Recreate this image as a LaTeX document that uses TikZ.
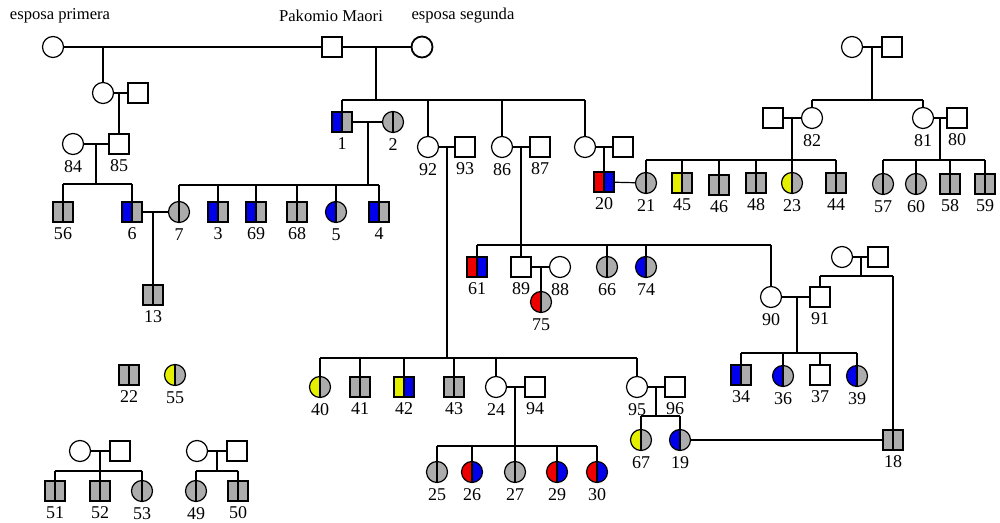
\documentclass[tikz,border=0pt]{standalone}
\usepackage{fontspec}
\setmainfont{Liberation Serif}
\definecolor{gry}{RGB}{172,172,172}
\definecolor{yel}{RGB}{228,240,0}
\definecolor{blu}{RGB}{0,0,235}
\definecolor{rd}{RGB}{238,0,0}
\tikzset{
  sq/.style={draw, rectangle, minimum size=10pt, inner sep=0pt, fill=white},
  ci/.style={draw, circle, minimum size=10.5pt, inner sep=0pt, fill=white},
  hf/.style 2 args={path picture={
      \fill[#1] (path picture bounding box.south west) rectangle (path picture bounding box.north);
      \fill[#2] (path picture bounding box.south) rectangle (path picture bounding box.north east);
      \draw[line width=0.6pt] (path picture bounding box.north) -- (path picture bounding box.south);}},
  gr/.style={hf={gry}{gry}},
  num/.style={font=\fontsize{9}{10}\selectfont, inner sep=0pt},
  lb/.style={label={[num, label distance=2.3pt]below:#1}},
  ttl/.style={font=\fontsize{8.3}{10}\selectfont, inner sep=0pt},
}
\newcommand\kid[2]{\draw (#1.north) -- (#1.north |- #2);}
\begin{document}
\begin{tikzpicture}[x=0.5pt, y=-0.5pt, line width=0.6pt]
\useasboundingbox (0,0) rectangle (1000,523);

% titles
\node[ttl] (tep) at (60,16) {esposa primera};
\node[ttl] (tpm) at (331,16) {Pakomio Maori};
\node[ttl] (tes) at (463,16) {esposa segunda};

% generation 1
\node[ci] (ep) at (53,47) {};
\node[sq] (pm) at (332,47) {};
\node[ci, line width=0.9pt] (es) at (422,47) {};
\draw (ep) -- (pm);
\draw (pm) -- (es);
\coordinate (jA) at (103,47);
\coordinate (jB) at (376,47);
\coordinate (sB) at (376,100);

% left branch
\node[ci] (a) at (103,93) {};
\node[sq] (b) at (138,93) {};
\draw (jA) -- (a);
\draw (a) -- (b);
\coordinate (jab) at (119,93);
\node[ci, lb=84] (n84) at (73,144) {};
\node[sq, lb=85] (n85) at (119,144) {};
\draw (jab) -- (n85);
\draw (n84) -- (n85);
\coordinate (j84) at (96,144);
\coordinate (s84) at (96,184);
\draw (j84) -- (s84);
\node[sq, gr, lb=56] (n56) at (63,212) {};
\node[sq, hf={blu}{gry}, lb=6] (n6) at (132,212) {};
\draw (n56.north |- s84) -- (n6.north |- s84);
\kid{n56}{s84}\kid{n6}{s84}

% children of Pakomio and esposa segunda
\draw (jB) -- (sB);
\node[sq, hf={blu}{gry}, lb=1] (n1) at (342,122) {};
\node[ci, gr, lb=2] (n2) at (393,122) {};
\node[ci, lb=92] (n92) at (428,147) {};
\node[sq, lb=93] (n93) at (465,147) {};
\node[ci, lb=86] (n86) at (502,147) {};
\node[sq, lb=87] (n87) at (540,147) {};
\node[ci] (c) at (585,147) {};
\node[sq] (d) at (623,147) {};
\draw (n1.north |- sB) -- (c.north |- sB);
\kid{n1}{sB}\kid{n92}{sB}\kid{n86}{sB}\kid{c}{sB}

% family 1 x 2
\draw (n1) -- (n2);
\coordinate (j12) at (368,122);
\coordinate (s12) at (368,185);
\draw (j12) -- (s12);
\node[ci, gr, lb=7] (n7) at (179,212) {};
\node[sq, hf={blu}{gry}, lb=3] (n3) at (218,212) {};
\node[sq, hf={blu}{gry}, lb=69] (n69) at (256,212) {};
\node[sq, gr, lb=68] (n68) at (297,212) {};
\node[ci, hf={blu}{gry}, lb=5] (n5) at (336,212) {};
\node[sq, hf={blu}{gry}, lb=4] (n4) at (379,212) {};
\draw (n7.north |- s12) -- (n4.north |- s12);
\kid{n7}{s12}\kid{n3}{s12}\kid{n69}{s12}\kid{n68}{s12}\kid{n5}{s12}\kid{n4}{s12}
\draw (n6) -- (n7);
\coordinate (j67) at (153,212);
\node[sq, gr, lb=13] (n13) at (153,295) {};
\draw (j67) -- (n13);

% 92 x 93
\draw (n92) -- (n93);
\coordinate (j92) at (447,147);
\coordinate (s92) at (447,358);
\draw (j92) -- (s92);

% 86 x 87
\draw (n86) -- (n87);
\coordinate (j86) at (521,147);
\coordinate (s86) at (521,245);
\draw (j86) -- (s86);

% c x d
\draw (c) -- (d);
\coordinate (jc) at (604,147);
\node[sq, hf={rd}{blu}, lb=20] (n20) at (604,182) {};
\draw (jc) -- (n20);

% right family
\node[ci] (e) at (852,47) {};
\node[sq] (f) at (892,47) {};
\draw (e) -- (f);
\coordinate (je) at (872,47);
\coordinate (se) at (872,100);
\draw (je) -- (se);
\node[sq] (g) at (773,118) {};
\node[ci, lb=82] (n82) at (812,118) {};
\node[ci, lb=81] (n81) at (923,118) {};
\node[sq, lb=80] (n80) at (957,118) {};
\draw (n82.north |- se) -- (n81.north |- se);
\kid{n82}{se}\kid{n81}{se}
\draw (g) -- (n82);
\draw (n81) -- (n80);
\coordinate (j82) at (792,118);
\coordinate (s82) at (792,160);
\draw (j82) -- (s82);
\coordinate (j81) at (940,118);
\coordinate (s81) at (940,160);
\draw (j81) -- (s81);
\node[ci, gr, lb=21] (n21) at (646,183) {};
\node[sq, hf={yel}{gry}, lb=45] (n45) at (682,183) {};
\node[sq, gr, lb=46] (n46) at (719,185) {};
\node[sq, gr, lb=48] (n48) at (756,183) {};
\node[ci, hf={yel}{gry}, lb=23] (n23) at (792,183) {};
\node[sq, gr, lb=44] (n44) at (836,183) {};
\draw (n21.north |- s82) -- (n44.north |- s82);
\kid{n21}{s82}\kid{n45}{s82}\kid{n46}{s82}\kid{n48}{s82}\kid{n23}{s82}\kid{n44}{s82}
\node[ci, gr, lb=57] (n57) at (883,184) {};
\node[ci, gr, lb=60] (n60) at (916,184) {};
\node[sq, gr, lb=58] (n58) at (950,184) {};
\node[sq, gr, lb=59] (n59) at (985,184) {};
\draw (n57.north |- s81) -- (n59.north |- s81);
\kid{n57}{s81}\kid{n60}{s81}\kid{n58}{s81}\kid{n59}{s81}
\draw (n20) -- (n21);

% children of 86 x 87
\node[sq, hf={rd}{blu}, lb=61] (n61) at (477,267) {};
\node[sq, lb=89] (n89) at (521,267) {};
\node[ci, lb=88] (n88) at (560,267) {};
\node[ci, gr, lb=66] (n66) at (607,267) {};
\node[ci, hf={blu}{gry}, lb=74] (n74) at (646,267) {};
\node[ci, lb=90] (n90) at (771,297) {};
\draw (n61.north |- s86) -- (n90.north |- s86);
\kid{n61}{s86}\kid{n89}{s86}\kid{n66}{s86}\kid{n74}{s86}\kid{n90}{s86}
\draw (n89) -- (n88);
\coordinate (j89) at (541,267);
\node[ci, hf={rd}{gry}, lb=75] (n75) at (541,302) {};
\draw (j89) -- (n75);

% 90 x 91
\node[ci] (h) at (842,257) {};
\node[sq] (i) at (878,257) {};
\draw (h) -- (i);
\coordinate (jh) at (861,257);
\coordinate (sh) at (861,276);
\draw (jh) -- (sh);
\node[sq, lb=91] (n91) at (820,297) {};
\node[sq, gr, lb=18] (n18) at (893,440) {};
\draw (n91.north |- sh) -- (n18.north |- sh);
\kid{n91}{sh}\kid{n18}{sh}
\draw (n90) -- (n91);
\coordinate (j90) at (797,297);
\coordinate (s90) at (797,353);
\draw (j90) -- (s90);
\node[sq, hf={blu}{gry}, lb=34] (n34) at (741,375) {};
\node[ci, hf={blu}{gry}, lb=36] (n36) at (783,376) {};
\node[sq, lb=37] (n37) at (820,375) {};
\node[ci, hf={blu}{gry}, lb=39] (n39) at (857,376) {};
\draw (n34.north |- s90) -- (n39.north |- s90);
\kid{n34}{s90}\kid{n36}{s90}\kid{n37}{s90}\kid{n39}{s90}

% children of 92 x 93
\node[ci, hf={yel}{gry}, lb=40] (n40) at (320,387) {};
\node[sq, gr, lb=41] (n41) at (360,387) {};
\node[sq, hf={yel}{blu}, lb=42] (n42) at (404,387) {};
\node[sq, gr, lb=43] (n43) at (454,387) {};
\node[ci, lb=24] (n24) at (496,387) {};
\node[sq, lb=94] (n94) at (535,387) {};
\node[ci, lb=95] (n95) at (637,387) {};
\node[sq, lb=96] (n96) at (675,387) {};
\draw (n40.north |- s92) -- (n95.north |- s92);
\kid{n40}{s92}\kid{n41}{s92}\kid{n42}{s92}\kid{n43}{s92}\kid{n24}{s92}\kid{n95}{s92}
\draw (n24) -- (n94);
\coordinate (j24) at (515,387);
\coordinate (s24) at (515,446);
\draw (j24) -- (s24);
\node[ci, gr, lb=25] (n25) at (437,472) {};
\node[ci, hf={rd}{blu}, lb=26] (n26) at (472,472) {};
\node[ci, gr, lb=27] (n27) at (515,472) {};
\node[ci, hf={rd}{blu}, lb=29] (n29) at (557,472) {};
\node[ci, hf={rd}{blu}, lb=30] (n30) at (597,472) {};
\draw (n25.north |- s24) -- (n30.north |- s24);
\kid{n25}{s24}\kid{n26}{s24}\kid{n27}{s24}\kid{n29}{s24}\kid{n30}{s24}
\draw (n95) -- (n96);
\coordinate (j95) at (656,387);
\coordinate (s95) at (656,416);
\draw (j95) -- (s95);
\node[ci, hf={yel}{gry}, lb=67] (n67) at (641,440) {};
\node[ci, hf={blu}{gry}, lb=19] (n19) at (680,440) {};
\draw (n67.north |- s95) -- (n19.north |- s95);
\kid{n67}{s95}\kid{n19}{s95}
\draw (n19) -- (n18);

% bottom left
\node[sq, gr, lb=22] (n22) at (129,375) {};
\node[ci, hf={yel}{gry}, lb=55] (n55) at (175,375) {};
\node[ci] (jj) at (80,451) {};
\node[sq] (kk) at (120,451) {};
\draw (jj) -- (kk);
\coordinate (jJ) at (100,451);
\coordinate (sJ) at (100,471);
\draw (jJ) -- (sJ);
\node[sq, gr, lb=51] (n51) at (55,491) {};
\node[sq, gr, lb=52] (n52) at (100,491) {};
\node[ci, gr, lb=53] (n53) at (142,491) {};
\draw (n51.north |- sJ) -- (n53.north |- sJ);
\kid{n51}{sJ}\kid{n52}{sJ}\kid{n53}{sJ}
\node[ci] (ll) at (197,451) {};
\node[sq] (mm) at (237,451) {};
\draw (ll) -- (mm);
\coordinate (jL) at (217,451);
\coordinate (sL) at (217,471);
\draw (jL) -- (sL);
\node[ci, gr, lb=49] (n49) at (196,491) {};
\node[sq, gr, lb=50] (n50) at (238,491) {};
\draw (n49.north |- sL) -- (n50.north |- sL);
\kid{n49}{sL}\kid{n50}{sL}
\end{tikzpicture}
\end{document}
